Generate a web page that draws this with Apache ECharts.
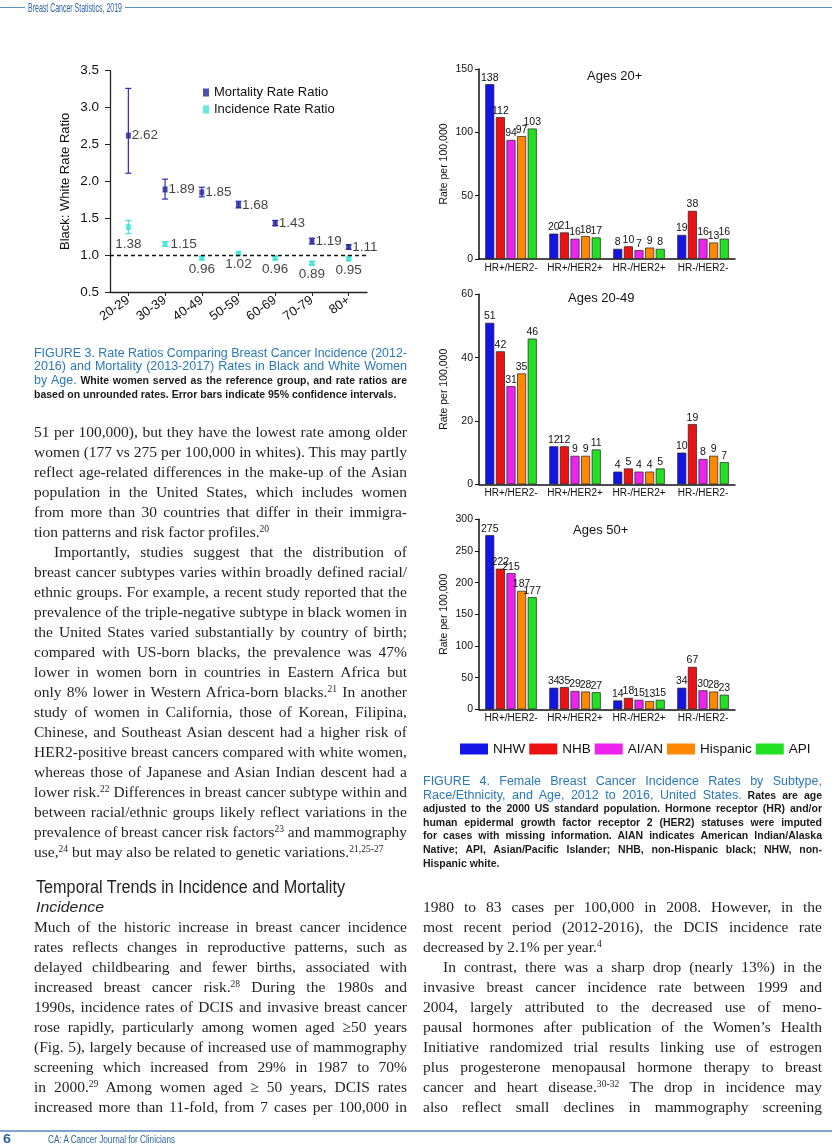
<!DOCTYPE html>
<html><head><meta charset="utf-8">
<script src="https://cdn.jsdelivr.net/npm/echarts@6.0.0/dist/echarts.min.js"></script>
<style>
html,body{margin:0;padding:0;background:#fff;}
#page{position:relative;width:832px;height:1144px;overflow:hidden;background:#fff;}
#chart{position:absolute;left:0;top:0;width:832px;height:1144px;}
.ln{position:absolute;white-space:nowrap;}
.serif{font-family:"Liberation Serif","Times New Roman",serif;font-size:15.5px;color:#231f20;}
.serif sup{font-size:62%;line-height:0;vertical-align:0.55em;}
.capb{font-family:"Liberation Sans",Arial,sans-serif;font-size:12.5px;color:#2a78b8;}
.capk{color:#1a1a1a;font-weight:bold;font-size:10.5px;}
.capt{font-family:"Liberation Sans",Arial,sans-serif;font-size:10.5px;font-weight:bold;color:#1a1a1a;}
.head{font-family:"Liberation Sans",Arial,sans-serif;font-size:17.5px;color:#231f20;}
.subhead{font-family:"Liberation Sans",Arial,sans-serif;font-size:15px;font-style:italic;color:#231f20;}
.runhead{font-family:"Liberation Sans",Arial,sans-serif;font-size:13px;color:#2d64a0;}
.runfoot{font-family:"Liberation Sans",Arial,sans-serif;font-size:11.5px;color:#2d64a0;}
.pagenum{font-family:"Liberation Sans",Arial,sans-serif;font-size:13px;font-weight:bold;color:#2d64a0;}
.rule{position:absolute;height:1px;background:#5b8fc2;}
</style>
</head><body>
<div id="page"><div id="chart"></div></div>
<script>
// ---------- DATA ----------
const ageGroups = ['20-29','30-39','40-49','50-59','60-69','70-79','80+'];
const mortalityRatio = [2.62,1.89,1.85,1.68,1.43,1.19,1.11];
const mortalityLow   = [2.11,1.76,1.79,1.64,1.40,1.15,1.08];
const mortalityHigh  = [3.26,2.03,1.92,1.73,1.47,1.23,1.14];
const incidenceRatio = [1.38,1.15,0.96,1.02,0.96,0.89,0.95];
const incidenceLow   = [1.29,1.12,0.94,1.00,0.94,0.87,0.93];
const incidenceHigh  = [1.47,1.18,0.98,1.04,0.98,0.91,0.97];
const ratioTicks = {min:0.5, max:3.5, interval:0.5};

const subtypes = ['HR+/HER2-','HR+/HER2+','HR-/HER2+','HR-/HER2-'];
const raceGroups = ['NHW','NHB','AI/AN','Hispanic','API'];
// rows: race group (NHW, NHB, AI/AN, Hispanic, API); columns: subtypes
const ratesAges20Plus = [[138,20,8,19],[112,21,10,38],[94,16,7,16],[97,18,9,13],[103,17,8,16]];
const ratesAges20to49 = [[51,12,4,10],[42,12,5,19],[31,9,4,8],[35,9,4,9],[46,11,5,7]];
const ratesAges50Plus = [[275,34,14,34],[222,35,18,67],[215,29,15,30],[187,28,13,28],[177,27,15,23]];
const panelTitles = ['Ages 20+','Ages 20-49','Ages 50+'];
const panelMax = [150,60,300];
const panelInterval = [50,20,50];

// ---------- STYLE ----------
const raceColors = ['#1414e6','#ee1111','#ee22ee','#ff8800','#22e022'];
const mortColor = '#23239e', incColor = '#3fe3d8';
const FONT = '"Liberation Sans", Arial, sans-serif';
const panelTops = [69, 294.3, 519.3];
const panelH = 190;

function errorBars(name, lows, highs, color){
  return {type:'custom', name:name, xAxisIndex:0, yAxisIndex:0, silent:true, z:1,
    data: lows.map((l,i)=>[i,l,highs[i]]),
    encode:{x:0, y:[1,2]},
    renderItem:function(params, api){
      const x = api.value(0);
      const lo = api.coord([x, api.value(1)]), hi = api.coord([x, api.value(2)]);
      const cw = 3, st = {stroke:color, lineWidth:1.2};
      return {type:'group', children:[
        {type:'line', shape:{x1:lo[0],y1:lo[1],x2:hi[0],y2:hi[1]}, style:st},
        {type:'line', shape:{x1:lo[0]-cw,y1:lo[1],x2:lo[0]+cw,y2:lo[1]}, style:st},
        {type:'line', shape:{x1:hi[0]-cw,y1:hi[1],x2:hi[0]+cw,y2:hi[1]}, style:st}
      ]};
    }};
}

const grids = [{left:110, top:70.7, width:257, height:221.3}];
const xAxes = [{type:'category', gridIndex:0, data:ageGroups, boundaryGap:true,
  axisLine:{lineStyle:{color:'#222', width:1.3}},
  axisTick:{show:true, alignWithLabel:true, length:4, lineStyle:{color:'#222'}},
  axisLabel:{rotate:35, fontSize:13, color:'#111', margin:7, interval:0, fontFamily:FONT}}];
const yAxes = [{type:'value', gridIndex:0, min:ratioTicks.min, max:ratioTicks.max, interval:ratioTicks.interval,
  splitLine:{show:false},
  axisLine:{show:true, lineStyle:{color:'#222', width:1.3}},
  axisTick:{show:true, length:5, lineStyle:{color:'#222'}},
  axisLabel:{fontSize:13.5, color:'#111', margin:11, formatter:v=>v.toFixed(1), fontFamily:FONT},
  name:'Black: White Rate Ratio', nameLocation:'middle', nameGap:38,
  nameTextStyle:{fontSize:13, color:'#111', fontFamily:FONT}}];

const series = [
  errorBars('mortCI', mortalityLow, mortalityHigh, '#2a2ab8'),
  errorBars('incCI', incidenceLow, incidenceHigh, incColor),
  {type:'scatter', name:'Mortality Rate Ratio', xAxisIndex:0, yAxisIndex:0, z:3,
   symbol:'rect', symbolSize:[5,6], itemStyle:{color:mortColor},
   data: mortalityRatio,
   label:{show:true, position:'right', distance:1, fontSize:13.5, color:'#111', fontFamily:FONT,
          formatter:p=>p.value.toFixed(2)},
   markLine:{silent:true, symbol:['none','none'], label:{show:false},
     lineStyle:{type:[4,3], color:'#111', width:1.3}, data:[{yAxis:1}]}},
  {type:'scatter', name:'Incidence Rate Ratio', xAxisIndex:0, yAxisIndex:0, z:3,
   symbol:'rect', symbolSize:[5,6], itemStyle:{color:incColor},
   data: incidenceRatio.map((v,i)=>({value:v, label:{position: i===1?'right':'bottom', distance: i===0?7:(i===1?3:1)}})),
   label:{show:true, fontSize:13.5, color:'#111', fontFamily:FONT, formatter:p=>p.value.toFixed(2)}}
];

const panels = [ratesAges20Plus, ratesAges20to49, ratesAges50Plus];
panels.forEach((rates, p)=>{
  const gi = p+1;
  grids.push({left:479, top:panelTops[p], width:256, height:panelH});
  xAxes.push({type:'category', gridIndex:gi, data:subtypes,
    axisLine:{lineStyle:{color:'#111', width:1.5}}, axisTick:{show:false},
    axisLabel:{fontSize:10, color:'#111', margin:4, interval:0, fontFamily:FONT}});
  yAxes.push({type:'value', gridIndex:gi, min:0, max:panelMax[p], interval:panelInterval[p],
    splitLine:{show:false},
    axisLine:{show:true, lineStyle:{color:'#111', width:1.5}},
    axisTick:{show:true, length:4, lineStyle:{color:'#111'}},
    axisLabel:{fontSize:10.5, color:'#111', margin:6, fontFamily:FONT},
    name:'Rate per 100,000', nameLocation:'middle', nameGap:29,
    nameTextStyle:{fontSize:10.5, color:'#111', fontFamily:FONT}});
  rates.forEach((vals, r)=>{
    series.push({type:'bar', name:raceGroups[r], xAxisIndex:gi, yAxisIndex:gi,
      data:vals, barWidth:9, barGap:'18%',
      itemStyle:{color:raceColors[r], borderColor:'#222', borderWidth:0.7},
      label:{show:true, position:'top', distance:1, fontSize:10.5, color:'#111', fontFamily:FONT}});
  });
});

const option = {
  animation:false,
  textStyle:{fontFamily:FONT},
  title: panelTitles.map((t,p)=>({text:t, left:[587,568,573][p], top:panelTops[p]+[1,-2,5][p], padding:0,
      textStyle:{fontSize:13, fontWeight:'normal', color:'#111', fontFamily:FONT}})),
  legend:[
    {orient:'vertical', left:198, top:81, itemWidth:6, itemHeight:8, itemGap:4, icon:'rect',
     data:['Mortality Rate Ratio','Incidence Rate Ratio'], textStyle:{fontSize:13, color:'#111', fontFamily:FONT}},
    {orient:'horizontal', left:455, top:737, itemWidth:28, itemHeight:11, itemGap:4, icon:'rect',
     itemStyle:{borderWidth:0},
     data:raceGroups, textStyle:{fontSize:13.5, color:'#111', fontFamily:FONT}}
  ],
  grid:grids, xAxis:xAxes, yAxis:yAxes, series:series
};
const chart = echarts.init(document.getElementById('chart'), null, {renderer:'canvas'});
chart.setOption(option);

// ---------- TEXT ----------
const page = document.getElementById('page');
function addLine(o){
  const d = document.createElement('div');
  d.className = 'ln ' + o.cls;
  d.innerHTML = o.html;
  page.appendChild(d);
  const fs = parseFloat(getComputedStyle(d).fontSize);
  const lh = Math.round(fs*1.25);
  d.style.lineHeight = lh+'px';
  const x = o.x + (o.indent||0), w = o.w - (o.indent||0);
  d.style.left = x+'px';
  d.style.top = (o.yc - lh/2)+'px';
  const nat = d.getBoundingClientRect().width;
  if (o.mode==='exact' || nat > w){
    d.style.transformOrigin = '0 50%';
    d.style.transform = 'scaleX(' + (w/nat) + ')';
  } else if (o.mode==='justify'){
    const n = (d.textContent.match(/ /g)||[]).length;
    if (n) d.style.wordSpacing = ((w-nat)/n) + 'px';
  }
}
function addBlock(x, w, y0, step, cls, lines){
  lines.forEach((l,i)=>{
    const o = typeof l==='string' ? {html:l} : l;
    addLine({x:x, w:w, yc:y0+step*i, cls:cls, html:o.html, mode:o.mode||'justify', indent:o.indent||0});
  });
}
function rule(x,y,w,h,c){const r=document.createElement('div');r.className='rule';r.style.left=x+'px';r.style.top=y+'px';r.style.width=w+'px';if(h)r.style.height=h+'px';if(c)r.style.background=c;page.appendChild(r);}

// header / footer
rule(0,7,25); rule(125,7,707);
addLine({x:28, w:94, yc:7.5, cls:'runhead', html:'Breast Cancer Statistics, 2019', mode:'exact'});
rule(0,1130,832,1.5,'#7ea6cf');
addLine({x:3, w:8, yc:1138.5, cls:'pagenum', html:'6', mode:'exact'});
addLine({x:48, w:127, yc:1138.5, cls:'runfoot', html:'CA: A Cancer Journal for Clinicians', mode:'exact'});

const LX = 34, LW = 373, RX = 423, RW = 399;

// Figure 3 caption
addBlock(LX, LW, 352.5, 13.7, 'capb', [
  'FIGURE 3. Rate Ratios Comparing Breast Cancer Incidence (2012-',
  '2016) and Mortality (2013-2017) Rates in Black and White Women',
  'by Age.<span class="capk"> White women served as the reference group, and rate ratios are</span>',
  {html:'<span class="capk">based on unrounded rates. Error bars indicate 95% confidence intervals.</span>', mode:'none'}
]);

// left column body
addBlock(LX, LW, 431.7, 20, 'serif', [
  '51 per 100,000), but they have the lowest rate among older',
  'women (177 vs 275 per 100,000 in whites). This may partly',
  'reflect age-related differences in the make-up of the Asian',
  'population in the United States, which includes women',
  'from more than 30 countries that differ in their immigra-',
  {html:'tion patterns and risk factor profiles.<sup>20</sup>', mode:'none'},
  {html:'Importantly, studies suggest that the distribution of', indent:20},
  'breast cancer subtypes varies within broadly defined racial/',
  'ethnic groups. For example, a recent study reported that the',
  'prevalence of the triple-negative subtype in black women in',
  'the United States varied substantially by country of birth;',
  'compared with US-born blacks, the prevalence was 47%',
  'lower in women born in countries in Eastern Africa but',
  'only 8% lower in Western Africa-born blacks.<sup>21</sup> In another',
  'study of women in California, those of Korean, Filipina,',
  'Chinese, and Southeast Asian descent had a higher risk of',
  'HER2-positive breast cancers compared with white women,',
  'whereas those of Japanese and Asian Indian descent had a',
  'lower risk.<sup>22</sup> Differences in breast cancer subtype within and',
  'between racial/ethnic groups likely reflect variations in the',
  'prevalence of breast cancer risk factors<sup>23</sup> and mammography',
  {html:'use,<sup>24</sup> but may also be related to genetic variations.<sup>21,25-27</sup>', mode:'none'}
]);

addLine({x:LX+2, w:309, yc:886.7, cls:'head', html:'Temporal Trends in Incidence and Mortality', mode:'exact'});
addLine({x:LX+2, w:68, yc:906.7, cls:'subhead', html:'Incidence', mode:'exact'});

addBlock(LX, LW, 926.7, 20, 'serif', [
  'Much of the historic increase in breast cancer incidence',
  'rates reflects changes in reproductive patterns, such as',
  'delayed childbearing and fewer births, associated with',
  'increased breast cancer risk.<sup>28</sup> During the 1980s and',
  '1990s, incidence rates of DCIS and invasive breast cancer',
  'rose rapidly, particularly among women aged \u226550 years',
  '(Fig. 5), largely because of increased use of mammography',
  'screening which increased from 29% in 1987 to 70%',
  'in 2000.<sup>29</sup> Among women aged \u2265 50 years, DCIS rates',
  'increased more than 11-fold, from 7 cases per 100,000 in'
]);

// Figure 4 caption
addBlock(RX, RW, 781, 13.7, 'capb', [
  'FIGURE 4. Female Breast Cancer Incidence Rates by Subtype,',
  'Race/Ethnicity, and Age, 2012 to 2016, United States.<span class="capk"> Rates are age</span>'
]);
addBlock(RX, RW, 781+13.7*2, 13.7, 'capt', [
  'adjusted to the 2000 US standard population. Hormone receptor (HR) and/or',
  'human epidermal growth factor receptor 2 (HER2) statuses were imputed',
  'for cases with missing information. AIAN indicates American Indian/Alaska',
  'Native; API, Asian/Pacific Islander; NHB, non-Hispanic black; NHW, non-',
  {html:'Hispanic white.', mode:'none'}
]);

// right column body
addBlock(RX, RW, 906.7, 20, 'serif', [
  '1980 to 83 cases per 100,000 in 2008. However, in the',
  'most recent period (2012-2016), the DCIS incidence rate',
  {html:'decreased by 2.1% per year.<sup>4</sup>', mode:'none'},
  {html:'In contrast, there was a sharp drop (nearly 13%) in the', indent:20},
  'invasive breast cancer incidence rate between 1999 and',
  '2004, largely attributed to the decreased use of meno-',
  'pausal hormones after publication of the Women\u2019s Health',
  'Initiative randomized trial results linking use of estrogen',
  'plus progesterone menopausal hormone therapy to breast',
  'cancer and heart disease.<sup>30-32</sup> The drop in incidence may',
  'also reflect small declines in mammography screening'
]);
</script>
</body></html>
